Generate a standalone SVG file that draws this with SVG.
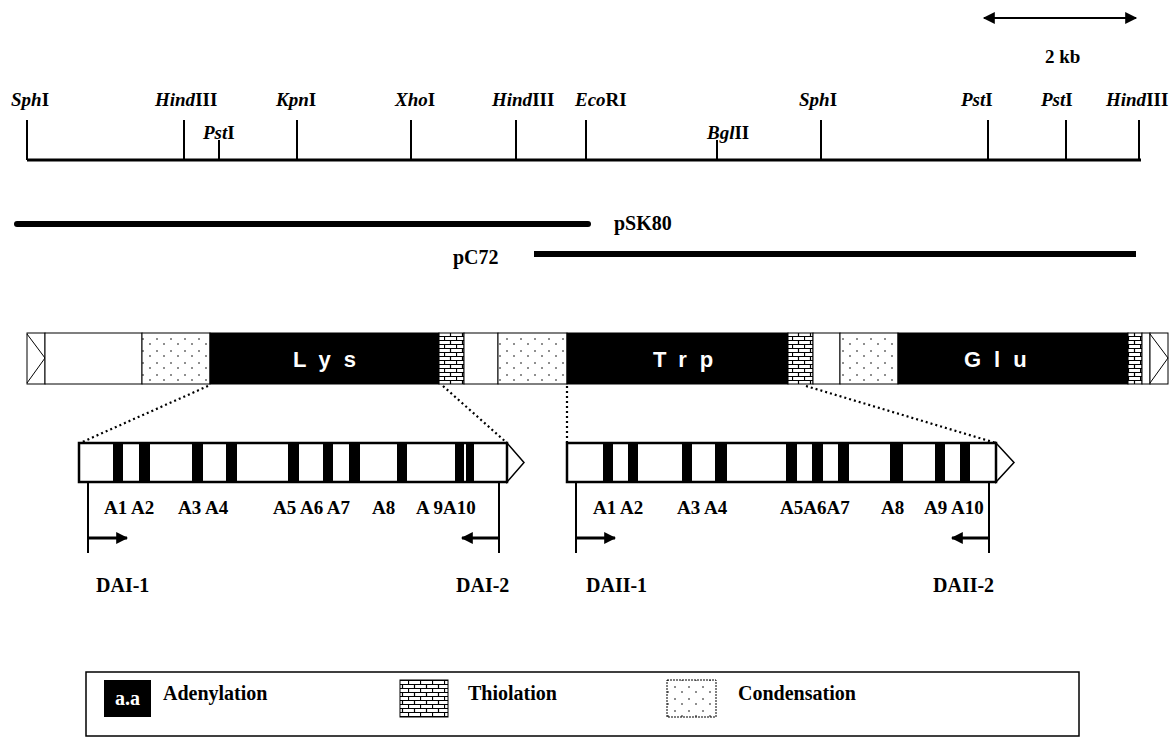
<svg xmlns="http://www.w3.org/2000/svg" width="1175" height="753" viewBox="0 0 1175 753">
<style>
.t{font-family:"Liberation Serif","Times New Roman",serif;font-weight:bold;font-size:19px;fill:#000}
.big{font-size:20px}
.dom{font-family:"Liberation Sans",Arial,sans-serif;font-weight:bold;font-size:22px;fill:#fff;letter-spacing:13px}
.ln{stroke:#000;fill:none}
.seg{stroke:#000;stroke-width:1}
.dot{stroke:#000;stroke-width:2.2;stroke-dasharray:2 3;fill:none}
.bar{fill:#000}
</style>
<defs>
<pattern id="cond" width="14" height="12" patternUnits="userSpaceOnUse">
<rect width="14" height="12" fill="#fff"/>
<circle cx="3" cy="3" r="0.8" fill="#000"/>
<circle cx="10" cy="8" r="0.8" fill="#000"/>
</pattern>
<pattern id="thio" width="12" height="8" patternUnits="userSpaceOnUse">
<rect width="12" height="8" fill="#fff"/>
<path d="M0 0.5H12M0 4.5H12M0.5 0.5V4.5M6.5 4.5V8" stroke="#000" stroke-width="1.2" fill="none"/>
</pattern>
<marker id="ah" viewBox="0 0 10 10" refX="9" refY="5" markerWidth="4" markerHeight="4" orient="auto-start-reverse" markerUnits="strokeWidth">
<path d="M0 0L10 5L0 10z" fill="#000"/>
</marker>
<marker id="ahs" viewBox="0 0 10 10" refX="9" refY="5" markerWidth="8" markerHeight="6" orient="auto-start-reverse" markerUnits="strokeWidth">
<path d="M0 0L10 5L0 10z" fill="#000"/>
</marker>
</defs>
<rect width="1175" height="753" fill="#fff"/>

<g id="scale">
<line class="ln" x1="984" y1="18" x2="1136" y2="18" stroke-width="2" marker-start="url(#ahs)" marker-end="url(#ahs)"/>
<text class="t" x="1045" y="63">2 kb</text>
</g>

<g id="restriction-map">
<line class="ln" x1="27" y1="160" x2="1141" y2="160" stroke-width="3"/>
<g class="ln" stroke-width="2">
<line x1="27" y1="120" x2="27" y2="160"/>
<line x1="184" y1="120" x2="184" y2="160"/>
<line x1="219" y1="140" x2="219" y2="160"/>
<line x1="297" y1="120" x2="297" y2="160"/>
<line x1="411" y1="120" x2="411" y2="160"/>
<line x1="516" y1="120" x2="516" y2="160"/>
<line x1="586" y1="120" x2="586" y2="160"/>
<line x1="717" y1="140" x2="717" y2="160"/>
<line x1="821" y1="120" x2="821" y2="160"/>
<line x1="988" y1="120" x2="988" y2="160"/>
<line x1="1066" y1="120" x2="1066" y2="160"/>
<line x1="1139" y1="120" x2="1139" y2="160"/>
</g>
<text class="t" x="11" y="106"><tspan font-style="italic">Sph</tspan>I</text>
<text class="t" x="155" y="106"><tspan font-style="italic">Hind</tspan>III</text>
<text class="t" x="203" y="139"><tspan font-style="italic">Pst</tspan>I</text>
<text class="t" x="276" y="106"><tspan font-style="italic">Kpn</tspan>I</text>
<text class="t" x="395" y="106"><tspan font-style="italic">Xho</tspan>I</text>
<text class="t" x="492" y="106"><tspan font-style="italic">Hind</tspan>III</text>
<text class="t" x="575" y="106"><tspan font-style="italic">Eco</tspan>RI</text>
<text class="t" x="707" y="139"><tspan font-style="italic">Bgl</tspan>II</text>
<text class="t" x="799" y="106"><tspan font-style="italic">Sph</tspan>I</text>
<text class="t" x="961" y="106"><tspan font-style="italic">Pst</tspan>I</text>
<text class="t" x="1041" y="106"><tspan font-style="italic">Pst</tspan>I</text>
<text class="t" x="1106" y="106"><tspan font-style="italic">Hind</tspan>III</text>
</g>

<g id="clone-pSK80">
<line class="ln" x1="17" y1="224" x2="588" y2="224" stroke-width="6" stroke-linecap="round"/>
<text class="t big" x="614" y="230">pSK80</text>
</g>
<g id="clone-pC72">
<line class="ln" x1="534" y1="254" x2="1136" y2="254" stroke-width="6"/>
<text class="t big" x="453" y="264">pC72</text>
</g>

<g id="domain-bar">
<rect class="seg" x="27" y="333" width="18" height="51" fill="#fff"/>
<polyline class="ln" points="27,334 45,358 27,383" stroke-width="1"/>
<rect class="seg" x="45" y="333" width="97" height="51" fill="#fff"/>
<rect class="seg" x="142" y="333" width="68" height="51" fill="url(#cond)"/>
<rect class="seg" x="210" y="333" width="229" height="51" fill="#000"/>
<text class="dom" x="293" y="367">Lys</text>
<rect class="seg" x="439" y="333" width="25" height="51" fill="url(#thio)"/>
<rect class="seg" x="464" y="333" width="34" height="51" fill="#fff"/>
<rect class="seg" x="498" y="333" width="69" height="51" fill="url(#cond)"/>
<rect class="seg" x="567" y="333" width="221" height="51" fill="#000"/>
<text class="dom" x="653" y="367">Trp</text>
<rect class="seg" x="788" y="333" width="25" height="51" fill="url(#thio)"/>
<rect class="seg" x="813" y="333" width="27" height="51" fill="#fff"/>
<rect class="seg" x="840" y="333" width="58" height="51" fill="url(#cond)"/>
<rect class="seg" x="898" y="333" width="230" height="51" fill="#000"/>
<text class="dom" x="964" y="367">Glu</text>
<rect class="seg" x="1128" y="333" width="14" height="51" fill="url(#thio)"/>
<rect class="seg" x="1142" y="333" width="8" height="51" fill="#fff"/>
<rect class="seg" x="1150" y="333" width="18" height="51" fill="#fff"/>
<polyline class="ln" points="1150,334 1168,358 1150,383" stroke-width="1"/>
</g>

<g id="module-1">
<rect class="ln" x="79" y="443" width="428" height="39" fill="#fff" stroke-width="2.5"/>
<polygon class="ln" points="507,443 524,462.5 507,482" fill="#fff" stroke-width="1.5"/>
<rect class="bar" x="113" y="443" width="10" height="39"/>
<rect class="bar" x="139" y="443" width="11" height="39"/>
<rect class="bar" x="192" y="443" width="11" height="39"/>
<rect class="bar" x="226" y="443" width="11" height="39"/>
<rect class="bar" x="288" y="443" width="11" height="39"/>
<rect class="bar" x="323" y="443" width="10" height="39"/>
<rect class="bar" x="349" y="443" width="11" height="39"/>
<rect class="bar" x="397" y="443" width="10" height="39"/>
<rect class="bar" x="455" y="443" width="9" height="39"/>
<rect class="bar" x="466" y="443" width="8" height="39"/>
<text class="t" x="104" y="514">A1 A2</text>
<text class="t" x="178" y="514">A3 A4</text>
<text class="t" x="273" y="514">A5 A6 A7</text>
<text class="t" x="372" y="514">A8</text>
<text class="t" x="416" y="514">A 9A10</text>
</g>

<g id="module-2">
<rect class="ln" x="567" y="443" width="429" height="39" fill="#fff" stroke-width="2.5"/>
<polygon class="ln" points="996,443 1014,462.5 996,482" fill="#fff" stroke-width="1.5"/>
<rect class="bar" x="603" y="443" width="10" height="39"/>
<rect class="bar" x="628" y="443" width="10" height="39"/>
<rect class="bar" x="682" y="443" width="10" height="39"/>
<rect class="bar" x="715" y="443" width="12" height="39"/>
<rect class="bar" x="786" y="443" width="11" height="39"/>
<rect class="bar" x="812" y="443" width="11" height="39"/>
<rect class="bar" x="838" y="443" width="11" height="39"/>
<rect class="bar" x="890" y="443" width="13" height="39"/>
<rect class="bar" x="935" y="443" width="10" height="39"/>
<rect class="bar" x="960" y="443" width="10" height="39"/>
<text class="t" x="593" y="514">A1 A2</text>
<text class="t" x="677" y="514">A3 A4</text>
<text class="t" x="780" y="514">A5A6A7</text>
<text class="t" x="881" y="514">A8</text>
<text class="t" x="924" y="514">A9 A10</text>
</g>

<g id="primer-DAI-1">
<line class="ln" x1="88" y1="482" x2="88" y2="553" stroke-width="2"/>
<text class="t big" x="96" y="592">DAI-1</text>
</g>
<g id="primer-DAI-2">
<line class="ln" x1="499" y1="482" x2="499" y2="553" stroke-width="2"/>
<text class="t big" x="456" y="592">DAI-2</text>
</g>
<g id="primer-DAII-1">
<line class="ln" x1="576" y1="482" x2="576" y2="553" stroke-width="2"/>
<text class="t big" x="586" y="592">DAII-1</text>
</g>
<g id="primer-DAII-2">
<line class="ln" x1="989" y1="482" x2="989" y2="553" stroke-width="2"/>
<text class="t big" x="933" y="592">DAII-2</text>
</g>

<g id="connectors">
<line class="dot" x1="208" y1="386" x2="80" y2="443"/>
<line class="dot" x1="443" y1="386" x2="507" y2="443"/>
<line class="dot" x1="567" y1="386" x2="567" y2="443"/>
<line class="dot" x1="806" y1="386" x2="996" y2="443"/>
<line class="ln" x1="88" y1="538" x2="127" y2="538" stroke-width="3" marker-end="url(#ah)"/>
<line class="ln" x1="499" y1="538" x2="462" y2="538" stroke-width="3" marker-end="url(#ah)"/>
<line class="ln" x1="576" y1="538" x2="615" y2="538" stroke-width="3" marker-end="url(#ah)"/>
<line class="ln" x1="989" y1="538" x2="952" y2="538" stroke-width="3" marker-end="url(#ah)"/>
</g>

<g id="legend">
<rect class="ln" x="86" y="672" width="993" height="64" stroke-width="1.5"/>
<rect x="104" y="680" width="47" height="37" fill="#000"/>
<text class="t big" x="127.5" y="705" text-anchor="middle" style="fill:#fff">a.a</text>
<text class="t big" x="163" y="700">Adenylation</text>
<rect class="seg" x="400" y="680" width="48" height="37" fill="url(#thio)"/>
<text class="t big" x="468" y="700">Thiolation</text>
<rect class="seg" x="667" y="680" width="49" height="37" fill="url(#cond)" stroke-dasharray="2 1"/>
<text class="t big" x="738" y="700">Condensation</text>
</g>
</svg>
